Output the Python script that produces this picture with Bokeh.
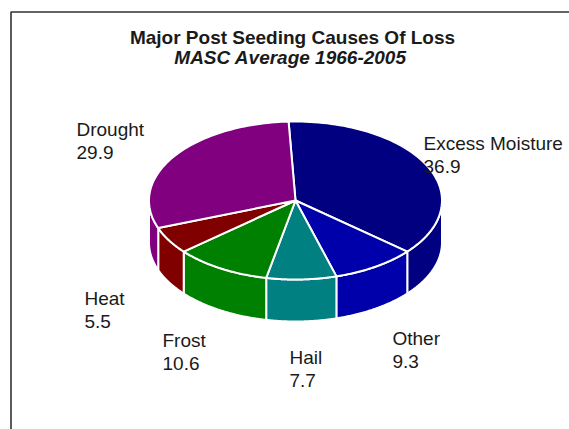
import numpy as np
from bokeh.plotting import figure
from bokeh.models import Range1d, ColumnDataSource
from bokeh.core.properties import value
from bokeh.embed import file_html
from bokeh.resources import INLINE

# ---- data ----
categories = ["Excess Moisture", "Other", "Hail", "Frost", "Heat", "Drought"]
losses = [36.9, 9.3, 7.7, 10.6, 5.5, 29.9]
colors = ["#000080", "#0000AA", "#008080", "#008000", "#800000", "#800080"]

title_text = "Major Post Seeding Causes Of Loss"
subtitle_text = "MASC Average 1966-2005"

# ---- layout (screen-like units, y down) ----
W, H = 569, 429
CX, CY = 295, 200
RX, RY = 146.5, 79
DEPTH = 42
START_DEG = 92.7
label_x = [423, 392, 289, 162, 84, 76]
label_y = [143, 338, 357, 340, 298, 129]
LINE_GAP = 23
FONT = "Liberation Sans"
TEXT_COLOR = "#1a1a1a"

# ---- geometry from the values ----
vals = np.array(losses, dtype=float)
frac = vals / vals.sum()
ends = START_DEG - 360.0 * np.cumsum(frac)
starts = np.concatenate([[START_DEG], ends[:-1]])


def arc(a0, a1, dy=0.0, n=80):
    t = np.radians(np.linspace(a0, a1, n))
    return CX + RX * np.cos(t), CY - RY * np.sin(t) + dy


side_xs, side_ys, side_c = [], [], []
top_xs, top_ys = [], []
for s, e, c in zip(starts, ends, colors):
    hi, lo = min(s, 0.0), max(e, -180.0)
    if lo < hi:
        tx, ty = arc(hi, lo)
        bx, by = arc(lo, hi, DEPTH)
        side_xs.append(list(tx) + list(bx))
        side_ys.append(list(ty) + list(by))
        side_c.append(c)
    ax, ay = arc(s, e)
    top_xs.append([CX] + list(ax))
    top_ys.append([CY] + list(ay))

p = figure(width=W, height=H, x_range=Range1d(0, W), y_range=Range1d(H, 0),
           output_backend="svg", toolbar_location=None, tools="",
           min_border=0, x_axis_location=None, y_axis_location=None,
           outline_line_color=None, background_fill_color="white",
           border_fill_color="white")
p.grid.visible = False

# frame
p.line(x=[10.5, 10.5, W + 5], y=[H + 5, 11.5, 11.5], line_color="#333333",
       line_width=1.6)

p.patches(xs="xs", ys="ys", fill_color="c", line_color="white", line_width=2,
          line_join="round",
          source=ColumnDataSource(dict(xs=side_xs, ys=side_ys, c=side_c)))
p.patches(xs="xs", ys="ys", fill_color="c", line_color="white", line_width=2,
          line_join="round",
          source=ColumnDataSource(dict(xs=top_xs, ys=top_ys, c=colors)))

# titles
p.text(x=[292], y=[37], text=[title_text], text_align="center",
       text_baseline="alphabetic", text_font=value(FONT), text_font_size="19px",
       text_font_style="bold", text_color=TEXT_COLOR)
p.text(x=[290], y=[57], text=[subtitle_text], text_align="center",
       text_baseline="alphabetic", text_font=value(FONT), text_font_size="19px",
       text_font_style="bold italic", text_color=TEXT_COLOR)

# labels
p.text(x=label_x, y=label_y, text=categories, text_align="left",
       text_baseline="alphabetic", text_font=value(FONT), text_font_size="19px",
       text_color=TEXT_COLOR)
p.text(x=label_x, y=[y + LINE_GAP for y in label_y],
       text=[f"{v:.1f}" for v in losses], text_align="left",
       text_baseline="alphabetic", text_font=value(FONT), text_font_size="19px",
       text_color=TEXT_COLOR)

open("out.html", "w").write(file_html(p, INLINE))
